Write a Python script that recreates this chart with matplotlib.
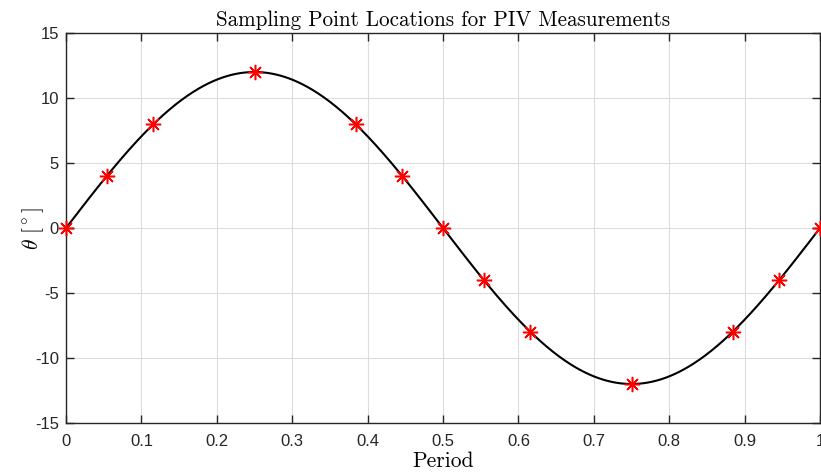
import numpy as np
import matplotlib.pyplot as plt

# sampling points
period = [0, 0.054, 0.116, 0.25, 0.384, 0.446, 0.5, 0.554, 0.616, 0.75, 0.884, 0.946, 1.0]
theta = [0, 4, 8, 12, 8, 4, 0, -4, -8, -12, -8, -4, 0]
amplitude = 12  # deg

xticks = [0, 0.1, 0.2, 0.3, 0.4, 0.5, 0.6, 0.7, 0.8, 0.9, 1]
xticklabels = ['0', '0.1', '0.2', '0.3', '0.4', '0.5', '0.6', '0.7', '0.8', '0.9', '1']
yticks = [-15, -10, -5, 0, 5, 10, 15]

plt.rcParams['mathtext.fontset'] = 'cm'
plt.rcParams['axes.unicode_minus'] = False
plt.rcParams['font.family'] = ['Liberation Sans', 'DejaVu Sans']

fig = plt.figure(figsize=(8.21, 4.75), dpi=100)
ax = fig.add_axes([0.0804, 0.1095, 0.9184, 0.821])

t = np.linspace(0, 1, 500)
ax.plot(t, amplitude * np.sin(2 * np.pi * t), '-', color='black', lw=1.5, zorder=3)
ax.plot(period, theta, linestyle='none', marker=(8, 2, 0), markersize=11,
        markeredgewidth=1.1, color='red', zorder=4, clip_on=False)

ax.set_xlim(0, 1)
ax.set_ylim(-15, 15)
ax.set_xticks(xticks)
ax.set_xticklabels(xticklabels)
ax.set_yticks(yticks)
ax.grid(True, color='#dcdcdc', lw=0.8)
ax.set_axisbelow(True)

for s in ax.spines.values():
    s.set_color('#262626')
    s.set_linewidth(1.0)
ax.tick_params(direction='in', length=6, width=1.0, color='#262626',
               labelsize=12, labelcolor='#262626', top=True, right=True)
ax.tick_params(axis='x', pad=8)
ax.tick_params(axis='y', pad=5)

ax.set_title('Sampling Point Locations for PIV Measurements', family='cmr10',
             fontsize=15.2, pad=5)
ax.set_xlabel('Period', family='cmr10', fontsize=15.5)
ax.set_ylabel(r'$\theta\ [^\circ]$', fontsize=15.5)
ax.xaxis.label.set_va('center')
ax.yaxis.label.set_va('center')
ax.xaxis.set_label_coords(0.5, -0.097)
ax.yaxis.set_label_coords(-0.044, 0.5)

fig.savefig('out.png', dpi=100)
